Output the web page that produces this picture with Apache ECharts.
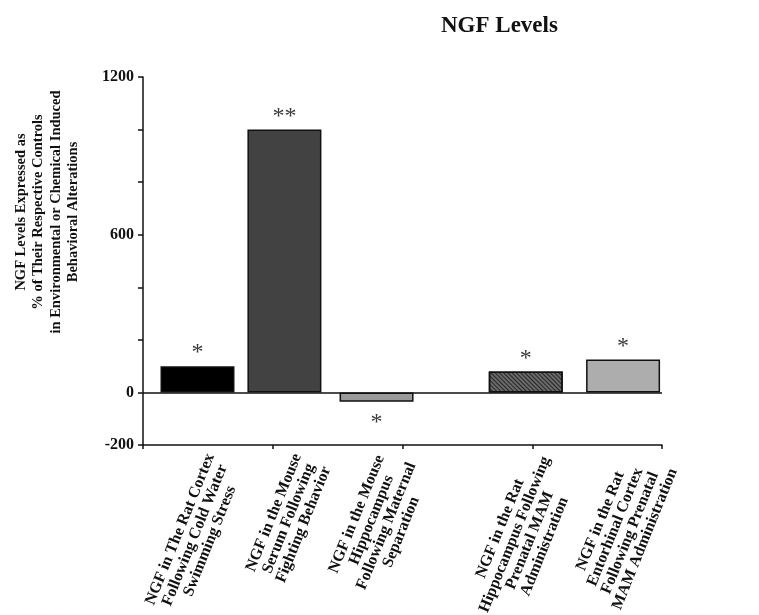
<!DOCTYPE html>
<html><head><meta charset="utf-8">
<script src="https://cdn.jsdelivr.net/npm/echarts@6/dist/echarts.min.js"></script>
<style>html,body{margin:0;padding:0;background:#fff}#chart{width:759px;height:615px}</style>
</head><body><div id="chart"></div>
<script>
const titleText = 'NGF Levels';
const yAxisTitleLines = ['NGF Levels Expressed as', '% of Their Respective Controls', 'in Environmental or Chemical Induced', 'Behavioral Alterations'];
const categories = [
  ['NGF in The Rat Cortex', 'Following Cold Water', 'Swimming Stress'],
  ['NGF in the Mouse', 'Serum Following', 'Fighting Behavior'],
  ['NGF in the Mouse', 'Hippocampus', 'Following Maternal', 'Separation'],
  ['NGF in the Rat', 'Hippocampus Following', 'Prenatal MAM', 'Administration'],
  ['NGF in the Rat', 'Entorhinal Cortex', 'Following Prenatal', 'MAM Administration']
];
const barSlots = [0.42, 1.09, 1.80, 2.95, 3.70];
const values = [100, 1000, -35, 80, 125];
const significance = ['*', '**', '*', '*', '*'];
const yTickLabels = [-200, 0, 600, 1200];
const xTicks = [0, 1, 2, 3, 4];

const SERIF = '"Liberation Serif", "Times New Roman", serif';
const INK = '#111';
const barColors = ['#000000', '#424242', '#9a9a9a', '#6a6a6a', '#adadad'];

const chart = echarts.init(document.getElementById('chart'), null, {renderer: 'canvas'});

const barData = values.map((v, i) => {
  const item = {
    value: [barSlots[i], v],
    itemStyle: {color: barColors[i]},
    label: {position: v < 0 ? 'bottom' : 'top', distance: v < 0 ? 9 : 1}
  };
  if (i === 3) {
    item.itemStyle.decal = {
      symbol: 'rect', symbolSize: 1, dashArrayX: [1, 0], dashArrayY: [1, 2],
      rotation: Math.PI / 4, color: '#262626'
    };
  }
  return item;
});

const option = {
  backgroundColor: '#fff',
  animation: false,
  title: {
    text: titleText,
    left: 436, top: 10,
    textStyle: {fontFamily: SERIF, fontWeight: 'bold', fontSize: 23, color: INK}
  },
  grid: {left: 143, right: 97, top: 77, bottom: 170, containLabel: false, outerBoundsMode: 'none'},
  xAxis: {
    type: 'value', min: 0, max: 4, interval: 1,
    axisLine: {show: true, onZero: false, lineStyle: {color: INK, width: 1.5}},
    axisTick: {show: true, length: 4, customValues: xTicks, lineStyle: {color: INK, width: 1.5}},
    splitLine: {show: false},
    axisLabel: {
      customValues: barSlots,
      rotate: 68, margin: 4,
      padding: [60, 0, 0, 0],
      fontFamily: SERIF, fontWeight: 'bold', fontSize: 16, color: INK,
      formatter: function (val) {
        let idx = -1;
        barSlots.forEach((s, i) => { if (Math.abs(s - val) < 1e-6) idx = i; });
        if (idx < 0) return '';
        return categories[idx].map(l => '{c|' + l + '}').join('\n');
      },
      rich: {c: {align: 'center', fontFamily: SERIF, fontWeight: 'bold', fontSize: 16, lineHeight: 16, color: INK}}
    }
  },
  yAxis: {
    type: 'value', min: -200, max: 1200, interval: 200,
    name: yAxisTitleLines.join('\n'),
    nameLocation: 'middle', nameRotate: 90, nameGap: 61,
    nameTextStyle: {fontFamily: SERIF, fontWeight: 'bold', fontSize: 14.5, lineHeight: 17.5, color: INK, align: 'center', padding: [0, 0, 0, 98]},
    axisLine: {show: true, onZero: false, lineStyle: {color: INK, width: 1.5}},
    axisTick: {show: true, length: 5, lineStyle: {color: INK, width: 1.5}},
    splitLine: {show: false},
    axisLabel: {customValues: yTickLabels, margin: 9, formatter: v => String(v), fontFamily: SERIF, fontWeight: 'bold', fontSize: 16, color: INK}
  },
  series: [{
    type: 'bar',
    barWidth: 74,
    data: barData,
    itemStyle: {borderColor: INK, borderWidth: 1.5},
    label: {
      show: true,
      formatter: p => significance[p.dataIndex],
      fontFamily: SERIF, fontSize: 24, color: '#3a3a3a'
    },
    markLine: {
      silent: true, symbol: ['none', 'none'],
      label: {show: false},
      lineStyle: {color: INK, width: 1.5, type: 'solid'},
      data: [{yAxis: 0}]
    }
  }]
};
chart.setOption(option);
</script>
</body></html>
